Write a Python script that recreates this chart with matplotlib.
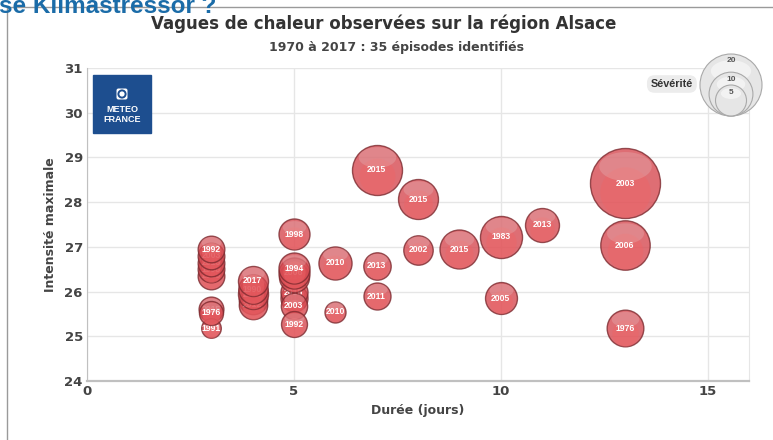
import numpy as np
import matplotlib
matplotlib.use("Agg")
import matplotlib.pyplot as plt
import matplotlib.patches as mpatches
from matplotlib.transforms import offset_copy
from matplotlib.path import Path

# Données : vagues de chaleur en Alsace (ordre = ordre de tracé)
duree = [3, 3, 3, 3, 3, 3, 3, 3,
         4, 4, 4, 4, 4,
         5, 5, 5, 5, 5, 5, 5, 5,
         6, 6,
         7, 7, 7,
         8, 8,
         9,
         10, 10,
         11,
         13, 13, 13]
intensite = [26.35, 26.5, 26.65, 26.8, 26.95, 25.6, 25.18, 25.53,
             25.82, 25.7, 25.94, 26.05, 26.24,
             25.85, 25.98, 26.33, 26.42, 26.52, 25.68, 25.27, 27.28,
             26.65, 25.55,
             28.72, 26.58, 25.9,
             28.06, 26.94,
             26.95,
             27.23, 25.85,
             27.5,
             28.42, 27.04, 25.18]
severite = [3.7, 3.7, 3.7, 3.7, 3.7, 3.2, 2.0, 3.0,
            4.2, 4.2, 4.7, 4.5, 4.7,
            3.8, 3.8, 4.7, 5.0, 5.0, 3.6, 3.5, 5.0,
            5.7, 2.3,
            13.0, 3.9, 3.8,
            8.3, 4.5,
            7.9,
            9.2, 5.3,
            6.0,
            25.5, 12.7, 7.0]
annee = [2005, 1998, 2013, 2003, 1992, 2015, 1991, 1976,
         2006, 2012, 2016, 1990, 2017,
         2013, 2015, 2014, 2006, 1994, 2003, 1992, 1998,
         2010, 2010,
         2015, 2013, 2011,
         2015, 2002,
         2015,
         1983, 2005,
         2013,
         2003, 2006, 1976]

legende_valeurs = [20, 10, 5]

# Rayon (pixels) proportionnel à la racine de la sévérité
K = 31 / np.sqrt(20)

fig = plt.figure(figsize=(7.73, 4.4), dpi=100)
fig.patch.set_facecolor("white")

ax = fig.add_axes([87 / 773, 1 - 381 / 440, (749 - 87) / 773, (381 - 68) / 440])
ax.set_xlim(0, 16)
ax.set_ylim(24, 31)
ax.set_xticks([0, 5, 10, 15])
ax.set_yticks(range(24, 32))
ax.grid(color="#e6e6e6", lw=1)
ax.set_axisbelow(True)
ax.spines["top"].set_visible(False)
ax.spines["right"].set_color("#e6e6e6")
ax.spines["left"].set_color("#c0c0c0")
ax.spines["bottom"].set_color("#c0c0c0")
ax.spines["bottom"].set_linewidth(1.6)
ax.tick_params(length=0, pad=3, labelsize=9.5, labelcolor="#444")
for lab in ax.get_xticklabels() + ax.get_yticklabels():
    lab.set_fontweight("bold")
ax.set_xlabel("Durée (jours)", fontsize=9, fontweight="bold", color="#444", labelpad=4)
ax.set_ylabel("Intensité maximale", fontsize=9, fontweight="bold", color="#444", labelpad=5)

# marqueur ellipse pour le reflet
t = np.linspace(0, 2 * np.pi, 60)
ellipse = Path(np.column_stack([np.cos(t), 0.55 * np.sin(t)]))

# Bulles
for i, (x, y, sev, an) in enumerate(zip(duree, intensite, severite, annee)):
    z = 3 + i
    r = K * np.sqrt(sev)
    d_pt = 2 * r * 0.72
    ax.scatter(x, y, s=d_pt ** 2, c="#d64a51", edgecolors="#7d2b30",
               linewidths=1.0, alpha=0.8, zorder=z)
    tr = offset_copy(ax.transData, fig=fig, x=0, y=-0.25 * r * 0.72, units="points")
    ax.scatter(x, y, s=(0.72 * d_pt) ** 2, c="#ef6366", alpha=0.45,
               linewidths=0, transform=tr, zorder=z + 0.1)
    tr2 = offset_copy(ax.transData, fig=fig, x=0, y=0.5 * r * 0.72, units="points")
    ax.scatter(x, y, s=(0.75 * d_pt) ** 2, marker=ellipse, c="#e8d0d0", alpha=0.25,
               linewidths=0, transform=tr2, zorder=z + 0.2)
    ax.text(x, y, str(an), ha="center", va="center", fontsize=6.2, color="white",
            fontweight="bold", family="Liberation Sans", zorder=z + 0.3)

# Titres
fig.text(383.5 / 773, 1 - 24 / 440, "Vagues de chaleur observées sur la région Alsace",
         ha="center", va="center", fontsize=12, fontweight="bold", color="#333")
fig.text(396.5 / 773, 1 - 47 / 440, "1970 à 2017 : 35 épisodes identifiés",
         ha="center", va="center", fontsize=9, fontweight="bold", color="#444")

# Calque en pixels pour le décor
ov = fig.add_axes([0, 0, 1, 1], zorder=5)
ov.set_xlim(0, 773)
ov.set_ylim(440, 0)
ov.axis("off")
ov.patch.set_alpha(0)

ov.plot([7, 7], [7, 440], color="#9a9a9a", lw=1)
ov.plot([7, 773], [7, 7], color="#9a9a9a", lw=1)
ov.text(-1, 13, "se Klimastressor ?", ha="left", va="baseline", fontsize=17.5,
        fontweight="bold", color="#1b6ca8", family="Liberation Sans")

# Logo Météo-France
ov.add_patch(mpatches.Rectangle((93, 75), 58, 58, color="#1d4e8f"))
ov.add_patch(mpatches.FancyBboxPatch((116.5, 88.5), 11, 11, boxstyle="round,pad=0,rounding_size=2",
                                     fc="white", ec="none"))
ov.add_patch(mpatches.Circle((122, 94), 3.6, fc="none", ec="#1d4e8f", lw=1.4))
ov.text(122, 109.5, "METEO", ha="center", va="center", fontsize=6.5, fontweight="bold",
        color="white", family="Liberation Sans")
ov.text(122, 120, "FRANCE", ha="center", va="center", fontsize=6.5, fontweight="bold",
        color="white", family="Liberation Sans")

# Légende de sévérité
ov.text(693, 84, "Sévérité", ha="right", va="center", fontsize=7.8, fontweight="bold",
        color="#333", family="Liberation Sans",
        bbox=dict(boxstyle="round,pad=0.35,rounding_size=0.7", fc="#ececec", ec="none"))
base = 116
for v in legende_valeurs:
    r = K * np.sqrt(v)
    ov.add_patch(mpatches.Circle((731, base - r), r, fc="#e6e6e6", ec="#a9a9a9", lw=0.8))
    ov.add_patch(mpatches.Ellipse((731, base - 1.45 * r), 1.3 * r, 0.7 * r, fc="white",
                                  ec="none", alpha=0.5))
    ov.text(731, base - 2 * r + 7, str(v), ha="center", va="center", fontsize=6,
            fontweight="bold", color="#555", family="Liberation Sans")

fig.savefig("out.png", dpi=100)
